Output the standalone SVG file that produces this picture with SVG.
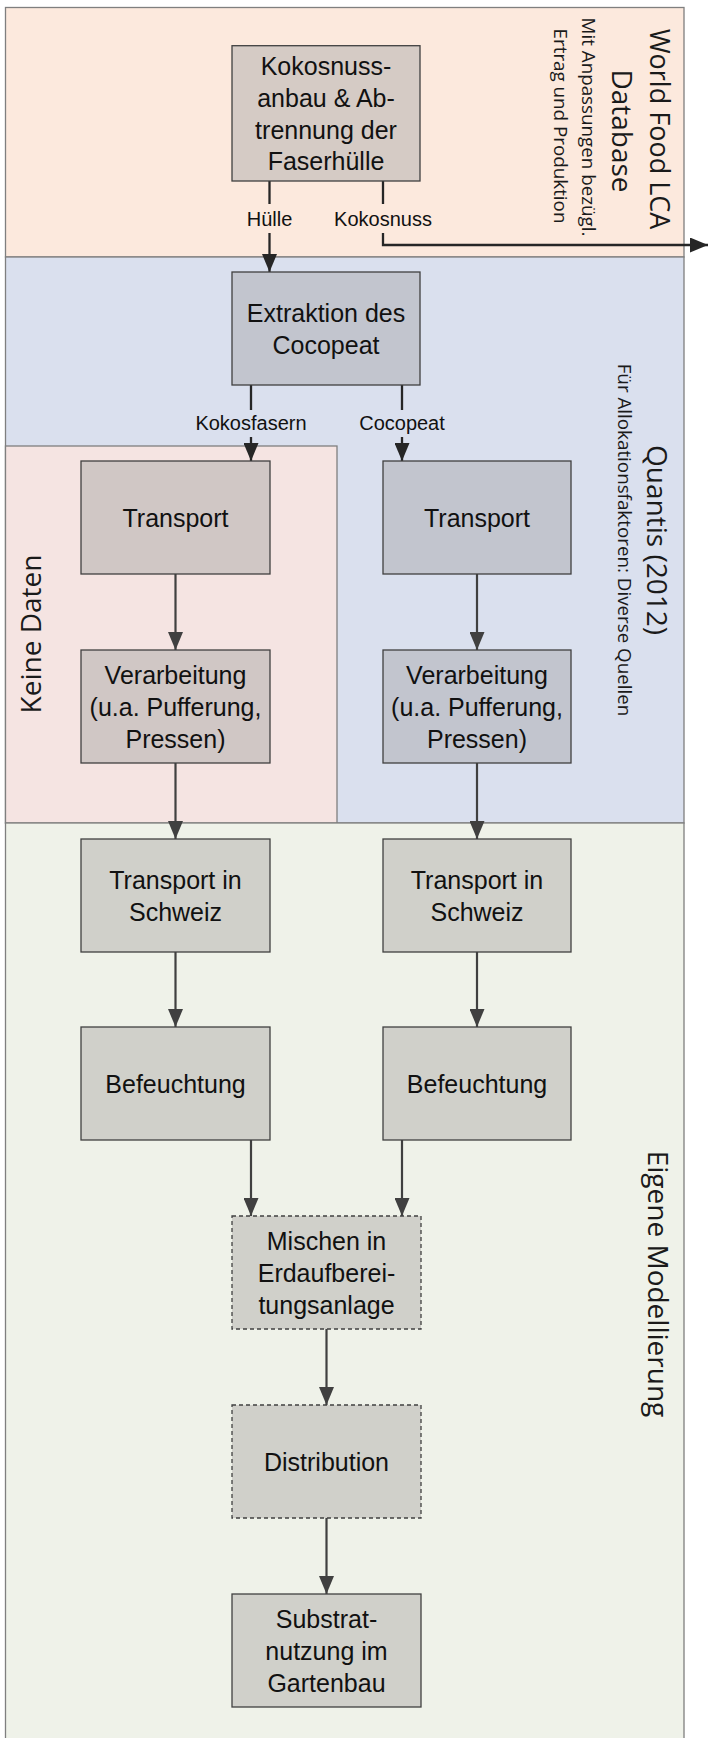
<svg xmlns="http://www.w3.org/2000/svg" width="708" height="1738" viewBox="0 0 708 1738">
<style>
.band{stroke:#7f7f7f;stroke-width:1.3}
.box{stroke:#404040;stroke-width:1.3}
.dash{stroke-dasharray:4 3}
.bt{font-family:"Liberation Sans Narrow","Liberation Sans",sans-serif;font-size:25px;fill:#111;text-anchor:middle}
.lbl{font-family:"Liberation Sans Narrow","Liberation Sans",sans-serif;font-size:20px;fill:#111;text-anchor:middle}
.big{font-family:"Open Sans","Liberation Sans",sans-serif;font-size:28px;fill:#1a1a1a;text-anchor:middle}
.sm{font-family:"Open Sans","Liberation Sans",sans-serif;font-size:18.8px;fill:#1a1a1a;text-anchor:middle}
.c1{fill:none;stroke:#262626;stroke-width:2.3}
.c2{fill:none;stroke:#404040;stroke-width:2.2}
</style>
<defs>
<marker id="ah1" markerUnits="userSpaceOnUse" viewBox="0 0 18 15" refX="18" refY="7.5" markerWidth="18" markerHeight="15" orient="auto"><path d="M0,0 L18,7.5 L0,15 z" fill="#262626"/></marker>
<marker id="ah2" markerUnits="userSpaceOnUse" viewBox="0 0 18 15" refX="18" refY="7.5" markerWidth="18" markerHeight="15" orient="auto"><path d="M0,0 L18,7.5 L0,15 z" fill="#404040"/></marker>
</defs>
<rect width="708" height="1738" fill="#ffffff"/>
<g id="bands">
<rect id="band-wfldb" class="band" x="5.5" y="7.5" width="678.5" height="249.5" fill="#FCE9DD"/>
<rect id="band-quantis" class="band" x="5.5" y="257" width="678.5" height="566" fill="#DAE0EE"/>
<rect id="band-keine" class="band" x="5.5" y="446" width="331.5" height="377" fill="#F5E4E2"/>
<rect id="band-eigene" class="band" x="5.5" y="823" width="678.5" height="920" fill="#EFF2E9"/>
</g>
<g id="band-labels">
<text class="big" style="font-size:27px" transform="translate(650,129) rotate(90)">World Food LCA</text>
<text class="big" transform="translate(612,131) rotate(90)">Database</text>
<text class="sm" transform="translate(582,127) rotate(90)">Mit Anpassungen bezügl.</text>
<text class="sm" transform="translate(554,126) rotate(90)">Ertrag und Produktion</text>
<text class="big" transform="translate(647,540) rotate(90)">Quantis (2012)</text>
<text class="sm" transform="translate(618,540) rotate(90)">Für Allokationsfaktoren: Diverse Quellen</text>
<text class="big" transform="translate(648,1284) rotate(90)">Eigene Modellierung</text>
<text class="big" transform="translate(41,634) rotate(-90)">Keine Daten</text>
</g>
<g id="connectors">
<path class="c1" d="M269.5,181 V204"/>
<path class="c1" d="M269.5,233 V272" marker-end="url(#ah1)"/>
<path class="c1" d="M383,181 V204"/>
<path class="c1" d="M383,233 V245 H708" marker-end="url(#ah1)"/>
<text class="lbl" x="269.5" y="226">Hülle</text>
<text class="lbl" x="383" y="226">Kokosnuss</text>
<path class="c1" d="M251,385 V410"/>
<path class="c1" d="M251,437 V461" marker-end="url(#ah1)"/>
<path class="c1" d="M402,385 V410"/>
<path class="c1" d="M402,437 V461" marker-end="url(#ah1)"/>
<text class="lbl" x="251" y="430">Kokosfasern</text>
<text class="lbl" x="402" y="430">Cocopeat</text>
<path class="c2" d="M175.5,574 V650" marker-end="url(#ah2)"/>
<path class="c2" d="M477,574 V650" marker-end="url(#ah2)"/>
<path class="c2" d="M175.5,763 V839" marker-end="url(#ah2)"/>
<path class="c2" d="M477,763 V839" marker-end="url(#ah2)"/>
<path class="c2" d="M175.5,952 V1027" marker-end="url(#ah2)"/>
<path class="c2" d="M477,952 V1027" marker-end="url(#ah2)"/>
<path class="c2" d="M251,1140 V1216" marker-end="url(#ah2)"/>
<path class="c2" d="M402,1140 V1216" marker-end="url(#ah2)"/>
<path class="c2" d="M326.5,1329 V1405" marker-end="url(#ah2)"/>
<path class="c2" d="M326.5,1518 V1594" marker-end="url(#ah2)"/>
</g>
<g id="n-anbau">
<rect class="box" x="232" y="45.7" width="188" height="135.3" fill="#D5CBC5"/>
<text class="bt" x="326" y="75.3">Kokosnuss-</text>
<text class="bt" x="326" y="107">anbau &amp; Ab-</text>
<text class="bt" x="326" y="138.7">trennung der</text>
<text class="bt" x="326" y="170.4">Faserhülle</text>
</g>
<g id="n-extraktion">
<rect class="box" x="232" y="272" width="188" height="113" fill="#C2C5CE"/>
<text class="bt" x="326" y="322.2">Extraktion des</text>
<text class="bt" x="326" y="353.9">Cocopeat</text>
</g>
<g id="n-transport-l">
<rect class="box" x="81" y="461" width="189" height="113" fill="#D0C7C5"/>
<text class="bt" x="175.5" y="527">Transport</text>
</g>
<g id="n-transport-r">
<rect class="box" x="383" y="461" width="188" height="113" fill="#C2C5CE"/>
<text class="bt" x="477" y="527">Transport</text>
</g>
<g id="n-verarb-l">
<rect class="box" x="81" y="650" width="189" height="113" fill="#D0C7C5"/>
<text class="bt" x="175.5" y="684.3">Verarbeitung</text>
<text class="bt" x="175.5" y="716">(u.a. Pufferung,</text>
<text class="bt" x="175.5" y="747.7">Pressen)</text>
</g>
<g id="n-verarb-r">
<rect class="box" x="383" y="650" width="188" height="113" fill="#C2C5CE"/>
<text class="bt" x="477" y="684.3">Verarbeitung</text>
<text class="bt" x="477" y="716">(u.a. Pufferung,</text>
<text class="bt" x="477" y="747.7">Pressen)</text>
</g>
<g id="n-ch-l">
<rect class="box" x="81" y="839" width="189" height="113" fill="#D0D0CA"/>
<text class="bt" x="175.5" y="889.2">Transport in</text>
<text class="bt" x="175.5" y="920.9">Schweiz</text>
</g>
<g id="n-ch-r">
<rect class="box" x="383" y="839" width="188" height="113" fill="#D0D0CA"/>
<text class="bt" x="477" y="889.2">Transport in</text>
<text class="bt" x="477" y="920.9">Schweiz</text>
</g>
<g id="n-bef-l">
<rect class="box" x="81" y="1027" width="189" height="113" fill="#D0D0CA"/>
<text class="bt" x="175.5" y="1093">Befeuchtung</text>
</g>
<g id="n-bef-r">
<rect class="box" x="383" y="1027" width="188" height="113" fill="#D0D0CA"/>
<text class="bt" x="477" y="1093">Befeuchtung</text>
</g>
<g id="n-mischen">
<rect class="box dash" x="232" y="1216" width="189" height="113" fill="#D0D0CA"/>
<text class="bt" x="326.5" y="1250.3">Mischen in</text>
<text class="bt" x="326.5" y="1282">Erdaufberei-</text>
<text class="bt" x="326.5" y="1313.7">tungsanlage</text>
</g>
<g id="n-distribution">
<rect class="box dash" x="232" y="1405" width="189" height="113" fill="#D0D0CA"/>
<text class="bt" x="326.5" y="1471">Distribution</text>
</g>
<g id="n-substrat">
<rect class="box" x="232" y="1594" width="189" height="113" fill="#D0D0CA"/>
<text class="bt" x="326.5" y="1628.3">Substrat-</text>
<text class="bt" x="326.5" y="1660">nutzung im</text>
<text class="bt" x="326.5" y="1691.7">Gartenbau</text>
</g>
</svg>
